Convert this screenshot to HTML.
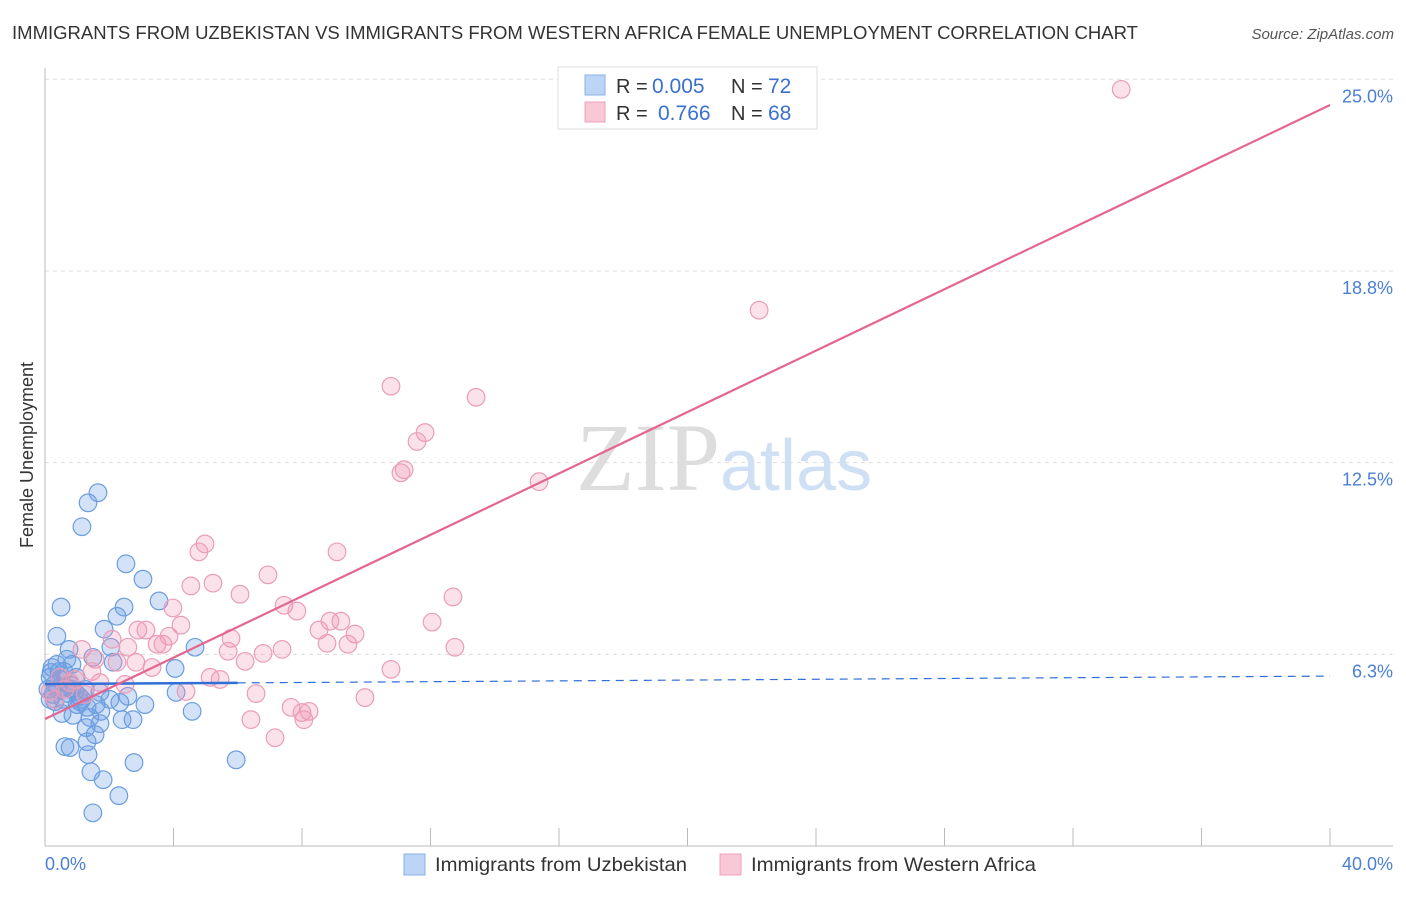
<!DOCTYPE html>
<html><head><meta charset="utf-8"><style>
body{margin:0;background:#fff;font-family:"Liberation Sans",sans-serif;}
svg text{font-family:"Liberation Sans",sans-serif;}
</style></head><body>
<svg width="1406" height="892" viewBox="0 0 1406 892">
<text x="12" y="39" font-size="18.5" fill="#333" textLength="1126" lengthAdjust="spacingAndGlyphs">IMMIGRANTS FROM UZBEKISTAN VS IMMIGRANTS FROM WESTERN AFRICA FEMALE UNEMPLOYMENT CORRELATION CHART</text>
<text x="1394" y="39" font-size="15" fill="#555" font-style="italic" text-anchor="end">Source: ZipAtlas.com</text>
<g id="grid"></g>
<text x="720" y="490" font-size="96" fill="#ddd" text-anchor="end" style="font-family:'Liberation Serif',serif">ZIP</text>
<text x="720" y="490" font-size="72" fill="#d0e0f4">atlas</text>
<line x1="45" y1="68" x2="45" y2="846" stroke="#bbb"/>
<line x1="45" y1="846" x2="1393" y2="846" stroke="#bbb"/>
<g id="xt"></g>
<g id="pts"></g>
<g id="lines"></g>
<text x="45" y="870" font-size="18" fill="#4a7fd6">0.0%</text>
<text x="1393" y="870" font-size="18" fill="#4a7fd6" text-anchor="end">40.0%</text>
<text transform="translate(33,455) rotate(-90)" font-size="18" fill="#333" text-anchor="middle">Female Unemployment</text>
<g>
<rect x="558" y="67" width="259" height="62" fill="#fff" stroke="#ddd"/>
<rect x="585" y="75" width="20" height="20" fill="#bcd4f5" stroke="#8ab0e6"/>
<rect x="585" y="102" width="20" height="20" fill="#f9c8d6" stroke="#eea0b8"/>
<text x="616" y="93" font-size="20" fill="#333">R =</text>
<text x="652" y="93" font-size="21" fill="#3a70d0">0.005</text>
<text x="731" y="93" font-size="20" fill="#333">N =</text>
<text x="768" y="93" font-size="21" fill="#3a70d0">72</text>
<text x="616" y="120" font-size="20" fill="#333">R =</text>
<text x="658" y="120" font-size="21" fill="#3a70d0">0.766</text>
<text x="731" y="120" font-size="20" fill="#333">N =</text>
<text x="768" y="120" font-size="21" fill="#3a70d0">68</text>
</g>
<g>
<rect x="404" y="854" width="21" height="21" fill="#bcd4f5" stroke="#8ab0e6"/>
<text x="435" y="871" font-size="19.5" fill="#333" textLength="252" lengthAdjust="spacingAndGlyphs">Immigrants from Uzbekistan</text>
<rect x="720" y="854" width="21" height="21" fill="#f9c8d6" stroke="#eea0b8"/>
<text x="751" y="871" font-size="19.5" fill="#333" textLength="285" lengthAdjust="spacingAndGlyphs">Immigrants from Western Africa</text>
</g>
</svg>
<script>
const yTicks=[6.25,12.5,18.75,25];
const yTickLabels=["6.3%","12.5%","18.8%","25.0%"];
const xTicks=[0,4,8,12,16,20,24,28,32,36,40];
const blueX=[1.65,1.34,1.15,2.52,3.05,3.55,2.46,2.24,0.50,1.84,0.37,2.05,1.49,0.75,0.84,0.22,0.16,0.47,0.65,0.25,0.93,1.09,0.31,0.53,0.87,1.40,1.74,1.71,2.40,2.74,3.11,2.33,1.31,1.56,1.31,1.34,0.62,0.78,1.43,1.81,2.30,1.49,2.77,5.95,4.05,4.08,4.58,4.67,1.15,1.00,0.40,0.59,0.81,1.25,0.09,0.31,0.16,0.68,1.06,1.59,2.02,2.58,1.28,0.72,0.44,0.19,0.56,0.97,0.84,0.37,2.12,1.71];
const blueY=[11.52,11.19,10.41,9.20,8.70,7.99,7.79,7.49,7.79,7.07,6.84,6.48,6.15,6.41,5.92,5.82,5.50,5.43,5.17,4.94,5.04,4.71,4.71,4.32,4.26,4.19,4.39,3.99,4.12,4.12,4.61,4.68,4.52,3.63,3.40,2.98,3.24,3.21,2.42,2.16,1.64,1.08,2.72,2.81,5.79,5.01,4.39,6.48,4.78,4.61,5.11,5.69,5.24,5.11,5.11,5.27,4.78,6.09,4.88,4.61,4.78,4.88,3.86,4.97,5.69,5.66,4.78,5.50,5.11,5.92,5.99,5.01];
const pinkX=[33.50,22.23,10.77,13.42,11.83,11.58,11.18,11.08,15.38,9.09,4.98,4.79,6.94,5.23,4.54,6.07,12.70,7.44,7.84,3.98,9.21,8.87,12.05,9.65,8.53,8.78,9.43,5.79,4.23,3.86,3.14,2.89,2.09,2.58,3.49,3.67,1.15,1.56,2.24,2.83,3.33,6.23,5.70,6.79,7.38,12.76,10.77,1.46,0.78,1.71,2.49,5.14,5.45,6.57,4.39,9.96,7.66,8.00,8.22,6.41,7.16,8.06,0.47,0.62,0.93,0.16,1.25,0.31];
const pinkY=[24.67,17.47,14.99,14.63,13.48,13.19,12.27,12.17,11.88,9.59,9.85,9.59,8.84,8.57,8.48,8.21,8.12,7.85,7.66,7.76,7.33,7.33,7.30,6.91,7.04,6.61,6.58,6.77,7.20,6.84,7.04,7.04,6.74,6.48,6.58,6.58,6.41,6.09,5.99,5.99,5.82,6.02,6.35,6.28,6.41,6.48,5.76,5.69,5.33,5.33,5.27,5.50,5.43,4.97,5.04,4.84,4.52,4.35,4.39,4.12,3.53,4.12,5.50,5.11,5.43,5.04,4.94,4.78];
const pinkTrend=[4.14,24.16];
const blueTrend=[5.28,5.54];
const blueSolidEnd=6.0;
const NS="http://www.w3.org/2000/svg";
const X=v=>45+v/40*1285, Y=v=>846-v*30.67;
function mk(tag,attrs,parent){const e=document.createElementNS(NS,tag);for(const k in attrs)e.setAttribute(k,attrs[k]);parent.appendChild(e);return e;}
const grid=document.getElementById('grid');
yTicks.forEach((t,i)=>{
 const l=mk('line',{x1:45,x2:1393,y1:Y(t),y2:Y(t),stroke:'#ddd','stroke-dasharray':'4,4'},grid);
 
 
 const tx=mk('text',{x:1393,y:Y(t)+23,'font-size':18,fill:'#4a7fd6','text-anchor':'end'},grid);
 tx.textContent=yTickLabels[i];
 
 
});
const xt=document.getElementById('xt');
xTicks.forEach(t=>{
 const l=mk('line',{x1:X(t),x2:X(t),y1:828,y2:846,stroke:'#bbb'},xt);
 
 
});
const pts=document.getElementById('pts');
blueX.forEach((v,i)=>{
 const c=mk('circle',{cx:X(v),cy:Y(blueY[i]),r:8.8,fill:'rgba(110,160,230,0.3)',stroke:'#6b9de0','stroke-width':1.2},pts);
 
 
});
pinkX.forEach((v,i)=>{
 const c=mk('circle',{cx:X(v),cy:Y(pinkY[i]),r:8.8,fill:'rgba(242,150,178,0.28)',stroke:'#eb9db6','stroke-width':1.2},pts);
 
 
});
const lines=document.getElementById('lines');
const bAt=x=>blueTrend[0]+(blueTrend[1]-blueTrend[0])*x/40;
const l1=mk('line',{x1:X(0),y1:Y(bAt(0)),x2:X(blueSolidEnd),y2:Y(bAt(blueSolidEnd)),stroke:'#2f6fd6','stroke-width':2.5},lines);


const l2=mk('line',{x1:X(blueSolidEnd),y1:Y(bAt(blueSolidEnd)),x2:X(40),y2:Y(bAt(40)),stroke:'#2f6fd6','stroke-width':1.2,'stroke-dasharray':'8,6'},lines);


const l3=mk('line',{x1:X(0),y1:Y(pinkTrend[0]),x2:X(40),y2:Y(pinkTrend[1]),stroke:'#e4668f','stroke-width':2.2},lines);


</script>
</body></html>
